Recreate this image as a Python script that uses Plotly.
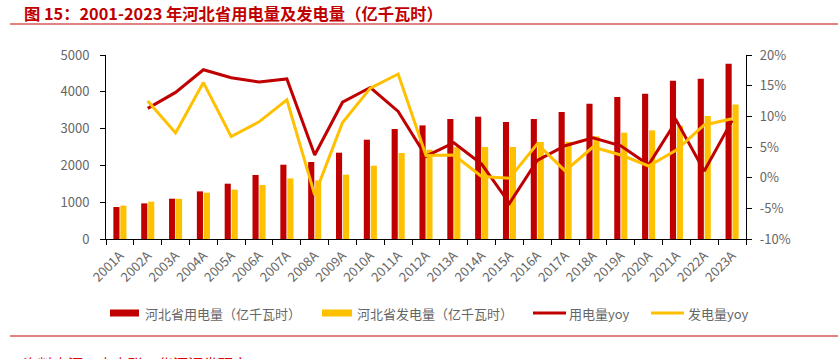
import plotly.graph_objects as go

# ---------------- data ----------------
years = ["2001A", "2002A", "2003A", "2004A", "2005A", "2006A", "2007A", "2008A",
         "2009A", "2010A", "2011A", "2012A", "2013A", "2014A", "2015A", "2016A",
         "2017A", "2018A", "2019A", "2020A", "2021A", "2022A", "2023A"]
consumption = [870, 968, 1095, 1294, 1503, 1739, 2019, 2092, 2345, 2698, 2989, 3087,
               3261, 3323, 3179, 3261, 3451, 3677, 3859, 3949, 4302, 4357, 4764]
generation = [905, 1014, 1092, 1258, 1340, 1467, 1647, 1592, 1747, 1992, 2337, 2427,
              2500, 2500, 2500, 2636, 2640, 2790, 2889, 2951, 3079, 3342, 3658]
consumption_yoy = [None, 11.3, 13.9, 17.6, 16.3, 15.6, 16.1, 3.7, 12.3, 14.7, 10.8, 3.5,
                   5.7, 2.2, -4.2, 2.8, 5.2, 6.5, 5.2, 2.1, 9.3, 1.1, 9.3]
generation_yoy = [None, 12.5, 7.3, 15.5, 6.7, 9.1, 12.7, -2.8, 9.0, 14.6, 16.9, 3.6,
                  3.7, 0.2, -0.1, 5.5, 1.1, 5.0, 3.7, 1.9, 4.5, 8.6, 9.6]
left_ticks = [0, 1000, 2000, 3000, 4000, 5000]
right_ticks = [-10, -5, 0, 5, 10, 15, 20]
right_tick_text = ["-10%", "-5%", "0%", "5%", "10%", "15%", "20%"]

title_text = "图 15：2001-2023 年河北省用电量及发电量（亿千瓦时）"
legend_names = ["河北省用电量（亿千瓦时）", "河北省发电量（亿千瓦时）", "用电量yoy", "发电量yoy"]
source_text = "资料来源：中电联，华源证券研究"

RED = "#C00000"
YELLOW = "#FFC000"
GRAY = "#666666"
FONT = "Noto Sans CJK SC"

W, H = 838, 359
L, R, T, B = 106, 746, 55, 239


def px(x):
    return (x - L) / (R - L)


def py(y):
    return (B - y) / (B - T)


fig = go.Figure()
fig.add_trace(go.Bar(x=years, y=consumption, name=legend_names[0], marker_color=RED,
                     marker_line_width=0, showlegend=False))
fig.add_trace(go.Bar(x=years, y=generation, name=legend_names[1], marker_color=YELLOW,
                     marker_line_width=0, showlegend=False))
fig.add_trace(go.Scatter(x=years, y=consumption_yoy, name=legend_names[2], yaxis="y2",
                         mode="lines", line=dict(color=RED, width=3), showlegend=False))
fig.add_trace(go.Scatter(x=years, y=generation_yoy, name=legend_names[3], yaxis="y2",
                         mode="lines", line=dict(color=YELLOW, width=3), showlegend=False))

shapes = [
    dict(type="line", xref="paper", yref="paper", x0=px(10), x1=px(838), y0=py(24), y1=py(24),
         line=dict(color="#D9595C", width=1.5)),
    dict(type="line", xref="paper", yref="paper", x0=px(10), x1=px(838), y0=py(336), y1=py(336),
         line=dict(color="#D9595C", width=1.5)),
    # legend swatches
    dict(type="rect", xref="paper", yref="paper", x0=px(110), x1=px(139), y0=py(309.5), y1=py(316.5),
         fillcolor=RED, line_width=0),
    dict(type="rect", xref="paper", yref="paper", x0=px(322), x1=px(352), y0=py(309.5), y1=py(316.5),
         fillcolor=YELLOW, line_width=0),
    dict(type="line", xref="paper", yref="paper", x0=px(533), x1=px(566), y0=py(313), y1=py(313),
         line=dict(color=RED, width=3)),
    dict(type="line", xref="paper", yref="paper", x0=px(651), x1=px(684), y0=py(313), y1=py(313),
         line=dict(color=YELLOW, width=3)),
]

annotations = [
    dict(text="<b>" + title_text + "</b>", xref="paper", yref="paper", x=px(22), y=py(13),
         xanchor="left", yanchor="middle", showarrow=False,
         font=dict(family=FONT, size=16.3, color=RED)),
    dict(text=source_text, xref="paper", yref="paper", x=px(21), y=py(351),
         xanchor="left", yanchor="top", showarrow=False,
         font=dict(family=FONT, size=15, color="#E00000")),
]
for xpos, name in zip([143, 355, 567, 686], legend_names):
    annotations.append(dict(text=name, xref="paper", yref="paper", x=px(xpos), y=py(313),
                            xanchor="left", yanchor="middle", showarrow=False,
                            font=dict(family=FONT, size=13, color=GRAY)))

fig.update_layout(
    width=W, height=H,
    margin=dict(l=L, r=W - R, t=T, b=H - B, pad=0),
    paper_bgcolor="white", plot_bgcolor="white",
    barmode="group", bargap=0.5, bargroupgap=0.12,
    font=dict(family=FONT, size=13, color=GRAY),
    xaxis=dict(type="category", range=[-0.5, 22.5], showline=True, linecolor="black", linewidth=1,
               ticks="outside", tickson="boundaries", ticklen=5, tickcolor="black",
               tickangle=-45, showgrid=False, zeroline=False, automargin=False,
               ticklabelstandoff=3, tickfont=dict(family=FONT, size=13, color=GRAY)),
    yaxis=dict(range=[0, 5000], tickvals=left_ticks, showline=True, linecolor="black", linewidth=1,
               ticks="outside", ticklen=5, tickcolor="black", showgrid=False, zeroline=False,
               automargin=False, ticklabelstandoff=8, tickfont=dict(family=FONT, size=13, color=GRAY)),
    yaxis2=dict(range=[-10, 20], tickvals=right_ticks, ticktext=right_tick_text, overlaying="y",
                side="right", showline=True, linecolor="black", linewidth=1.3,
                ticks="outside", ticklen=5, tickcolor="black", showgrid=False, zeroline=False,
                automargin=False, ticklabelstandoff=5, tickfont=dict(family=FONT, size=13, color=GRAY)),
    shapes=shapes, annotations=annotations,
)

fig.write_html("out.html", config={"displayModeBar": False},
               post_script="document.body.style.margin='0px';")
